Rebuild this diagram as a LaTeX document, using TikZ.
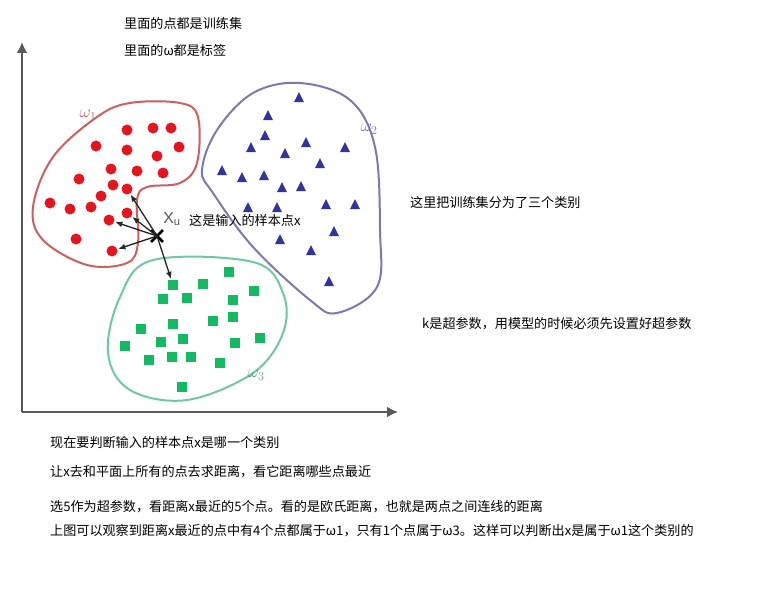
\documentclass[tikz,border=0pt]{standalone}
\usepackage{fontspec}
\setmainfont{Liberation Sans}
\newfontfamily\cjk{Noto Sans CJK SC}
\usetikzlibrary{arrows.meta, shapes, positioning}
\definecolor{dotred}{RGB}{230,20,30}
\definecolor{triblue}{RGB}{50,50,160}
\definecolor{sqgreen}{RGB}{20,185,100}
\definecolor{redline}{RGB}{205,95,95}
\definecolor{blueline}{RGB}{125,120,175}
\definecolor{greenline}{RGB}{110,200,160}

\begin{document}
\begin{tikzpicture}[
        x=1pt, y=-1pt,
        reddot/.style={shape=circle, fill=dotred, inner sep=0pt, minimum size=11pt},
        bluetri/.style={shape=isosceles triangle, shape border rotate=90, fill=triblue, inner sep=0pt, minimum width=10pt, minimum height=10pt, isosceles triangle stretches},
        greensq/.style={shape=rectangle, fill=sqgreen, inner sep=0pt, minimum size=10pt},
        note/.style={anchor=west, inner sep=0pt, font=\cjk\fontsize{13.1}{15}\selectfont},
        classlabel/.style={font=\fontsize{18}{18}\selectfont},
        nnarrow/.style={-{Latex[length=7pt,width=6pt]}, line width=1.3pt, black!85}
        ]
        \useasboundingbox (0,0) rectangle (770,602);

        %% Axes
        \draw[gray!70!black, line width=2pt, -{Latex[length=11pt,width=11pt]}] (22,412) -- (22,42);
        \draw[gray!70!black, line width=2pt, -{Latex[length=11pt,width=11pt]}] (22,412) -- (398,412);

        %% Class boundaries
        \draw[redline, line width=2pt] plot[smooth cycle, tension=0.6] coordinates {(33,207) (53,157) (97,117) (130,103) (180,103) (198,117) (197,163) (180,183) (147,187) (137,200) (138,243) (127,263) (87,265) (43,240)};
        \draw[blueline, line width=2pt] plot[smooth cycle, tension=0.6] coordinates {(300,83) (350,100) (375,147) (380,230) (377,287) (337,313) (310,300) (253,247) (213,193) (202,170) (217,130) (253,93)};
        \draw[greenline, line width=2pt] plot[smooth cycle, tension=0.6] coordinates {(153,260) (253,262) (283,293) (283,333) (253,373) (187,400) (130,390) (108,353) (120,297)};

        %% Samples
        \foreach \x/\y [count=\i] in {127/130, 153/128, 171/128, 96/146, 127/150, 157/156, 179/147, 111/169, 137/171, 163/173, 79/179, 113/185, 127/189, 101/196, 50/203, 70/209, 91/207, 127/213, 109/220, 76/239, 112/251}
            \node[reddot] (r\i) at (\x,\y) {};
        \foreach \x/\y [count=\i] in {299/99, 268/117, 265/137, 306/144, 251/149, 285/155, 345/149, 320/165, 222/172, 242/179, 264/177, 282/189, 301/188, 248/209, 277/209, 326/206, 355/206, 334/233, 280/241, 311/252, 329/283}
            \node[bluetri] (b\i) at (\x,\y) {};
        \foreach \x/\y [count=\i] in {229/272, 173/285, 203/284, 254/291, 163/299, 187/298, 233/300, 233/317, 213/321, 173/324, 141/329, 125/346, 161/342, 183/339, 260/338, 235/343, 149/360, 172/357, 191/357, 220/363, 182/387}
            \node[greensq] (g\i) at (\x,\y) {};

        %% Labels
        \node[classlabel, redline] (w1) at (88,115) {$\omega_{1}$};
        \node[classlabel, blueline] (w2) at (369,129) {$\omega_{2}$};
        \node[classlabel, greenline!80!black] (w3) at (256,375) {$\omega_{3}$};

        %% Query point
        \node[shape=cross out, draw, line width=2.8pt, inner sep=0pt, minimum size=9pt] (xu) at (157,236) {};
        \node[gray!70!black, font=\fontsize{16}{16}\selectfont] (xulabel) at (172,219) {X$_{\mathrm{u}}$};
        \foreach \t in {r13, r18, r19, r21, g2}
            \draw[nnarrow, shorten >=1pt] (xu.center) -- (\t);

        %% Notes
        \node[note] (n1) at (124,23) {里面的点都是训练集};
        \node[note] (n2) at (124,50) {里面的ω都是标签};
        \node[note] (n3) at (189,220) {这是输入的样本点x};
        \node[note] (n4) at (410,203) {这里把训练集分为了三个类别};
        \node[note] (n5) at (422,324) {k是超参数，用模型的时候必须先设置好超参数};
        \node[note] (n6) at (50,443) {现在要判断输入的样本点x是哪一个类别};
        \node[note] (n7) at (50,472) {让x去和平面上所有的点去求距离，看它距离哪些点最近};
        \node[note] (n8) at (50,507) {选5作为超参数，看距离x最近的5个点。看的是欧氏距离，也就是两点之间连线的距离};
        \node[note] (n9) at (50,531) {上图可以观察到距离x最近的点中有4个点都属于ω1，只有1个点属于ω3。这样可以判断出x是属于ω1这个类别的};
\end{tikzpicture}
\end{document}
